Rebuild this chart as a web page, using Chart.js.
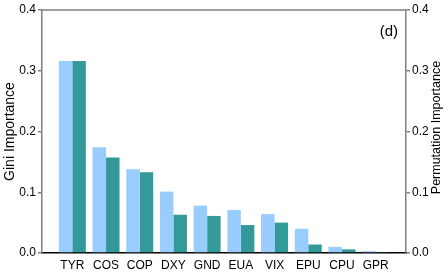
<!DOCTYPE html>
<html>
<head>
<meta charset="utf-8">
<script src="https://cdn.jsdelivr.net/npm/chart.js@4"></script>
<style>
  body { margin: 0; background: #fff; }
  #wrap { width: 448px; height: 275px; }
</style>
</head>
<body>
<div id="wrap"><canvas id="chartImportance"></canvas></div>
<script>
const labels = ['TYR', 'COS', 'COP', 'DXY', 'GND', 'EUA', 'VIX', 'EPU', 'CPU', 'GPR'];
const gini = [0.316, 0.174, 0.138, 0.101, 0.078, 0.071, 0.064, 0.040, 0.010, 0.003];
const perm = [0.316, 0.157, 0.133, 0.063, 0.061, 0.046, 0.050, 0.014, 0.006, 0.0015];
const yTicks = [0, 0.1, 0.2, 0.3, 0.4];

const font = { family: "'Liberation Sans', Arial, sans-serif", size: 12 };

// top frame line, right title and panel letter
const extras = {
    id: 'extras',
    afterDraw(chart) {
        const ctx = chart.ctx;
        const a = chart.chartArea;
        ctx.save();
        ctx.strokeStyle = '#808080';
        ctx.lineWidth = 1.5;
        ctx.beginPath();
        ctx.moveTo(a.left, a.top);
        ctx.lineTo(a.right, a.top);
        ctx.stroke();

        ctx.fillStyle = '#000';
        ctx.font = "12.5px 'Liberation Sans', Arial, sans-serif";
        ctx.textAlign = 'center';
        ctx.textBaseline = 'middle';
        ctx.translate(437, (a.top + a.bottom) / 2 - 4);
        ctx.rotate(-Math.PI / 2);
        ctx.fillText('Permutation Importance', 0, 0);
        ctx.restore();

        ctx.save();
        ctx.fillStyle = '#000';
        ctx.font = "15px 'Liberation Sans', Arial, sans-serif";
        ctx.textAlign = 'right';
        ctx.textBaseline = 'middle';
        ctx.fillText('(d)', a.right - 8, 32);
        ctx.restore();
    }
};

const ctx1 = document.getElementById('chartImportance').getContext('2d');
const chartImportance = new Chart(ctx1, {
    type: 'bar',
    data: {
        datasets: [{
            label: 'Gini',
            data: gini.map((v, i) => ({ x: i, y: v })),
            backgroundColor: '#99CCFF',
            yAxisID: 'y'
        }, {
            label: 'Permutation',
            data: perm.map((v, i) => ({ x: i, y: v })),
            backgroundColor: '#339999',
            yAxisID: 'y1'
        }]
    },
    options: {
        responsive: true,
        maintainAspectRatio: false,
        animation: false,
        categoryPercentage: 0.8,
        barPercentage: 1.0,
        layout: { padding: { top: 10, left: 0, right: 0, bottom: 0 } },
        plugins: { legend: { display: false }, tooltip: { enabled: false } },
        scales: {
            x: {
                type: 'linear',
                min: -0.9,
                max: 9.9,
                offset: false,
                afterBuildTicks: s => { s.ticks = labels.map((l, i) => ({ value: i })); },
                afterFit: s => { s.height = 22; },
                grid: { display: false, drawTicks: false, tickLength: 0 },
                border: { color: '#000', width: 1.5 },
                ticks: {
                    autoSkip: false,
                    maxRotation: 0,
                    padding: 5,
                    color: '#000',
                    font: font,
                    callback: v => labels[v]
                }
            },
            y: {
                position: 'left',
                min: 0,
                max: 0.4,
                afterBuildTicks: s => { s.ticks = yTicks.map(v => ({ value: v })); },
                afterFit: s => { s.width = 42; },
                grid: { drawOnChartArea: false, tickLength: 4, color: '#808080', lineWidth: 1.5 },
                border: { color: '#808080', width: 1.5 },
                ticks: { padding: 2, color: '#000', font: font, callback: v => v.toFixed(1) },
                title: { display: true, text: 'Gini Importance', color: '#000', padding: { top: 2, bottom: 0 },
                         font: { family: font.family, size: 14 } }
            },
            y1: {
                position: 'right',
                min: 0,
                max: 0.4,
                afterBuildTicks: s => { s.ticks = yTicks.map(v => ({ value: v })); },
                afterFit: s => { s.width = 42; },
                grid: { drawOnChartArea: false, tickLength: 4, color: '#808080', lineWidth: 1.5 },
                border: { color: '#808080', width: 1.5 },
                ticks: { padding: 2, color: '#000', font: font, callback: v => v.toFixed(1) }
            }
        }
    },
    plugins: [extras]
});
</script>
</body>
</html>
